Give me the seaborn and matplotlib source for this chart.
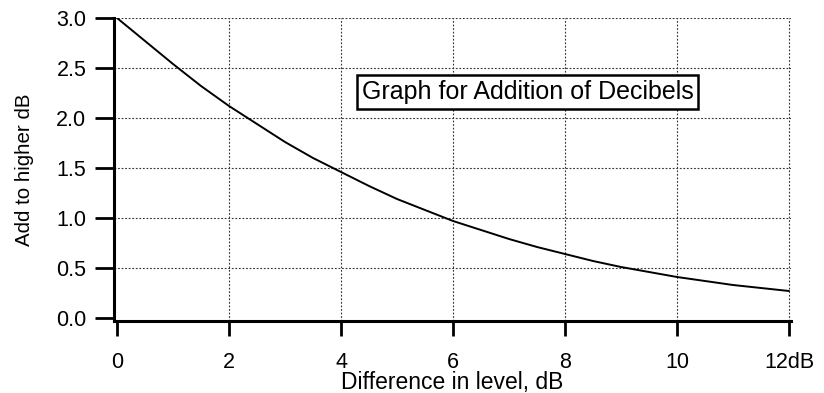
import matplotlib
matplotlib.use("Agg")
import matplotlib.pyplot as plt
import seaborn as sns
import pandas as pd

# Values
difference_db = [0.0, 0.5, 1.0, 1.5, 2.0, 2.5, 3.0, 3.5, 4.0, 4.5, 5.0, 5.5, 6.0,
                 6.5, 7.0, 7.5, 8.0, 8.5, 9.0, 9.5, 10.0, 10.5, 11.0, 11.5, 12.0]
add_to_higher = [3.00, 2.77, 2.54, 2.32, 2.12, 1.94, 1.76, 1.60, 1.46, 1.32, 1.19, 1.08, 0.97,
                 0.88, 0.79, 0.71, 0.64, 0.57, 0.51, 0.46, 0.41, 0.37, 0.33, 0.30, 0.27]
x_ticks = [0, 2, 4, 6, 8, 10, 12]
x_tick_labels = ["0", "2", "4", "6", "8", "10", "12dB"]
y_ticks = [0.0, 0.5, 1.0, 1.5, 2.0, 2.5, 3.0]
y_tick_labels = ["0.0", "0.5", "1.0", "1.5", "2.0", "2.5", "3.0"]

df = pd.DataFrame({"diff": difference_db, "add": add_to_higher})

sns.set_style("white")
plt.rcParams['font.family'] = ['Liberation Sans', 'DejaVu Sans']
plt.rcParams['text.color'] = 'black'
plt.rcParams['axes.labelcolor'] = 'black'

fig = plt.figure(figsize=(8.24, 3.93), dpi=100)
ax = fig.add_axes([0.1386, 0.1832, 0.821, 0.771])

sns.lineplot(data=df, x="diff", y="add", ax=ax, color="black", linewidth=1.4)

ax.set_xlim(-0.05, 12.03)
ax.set_ylim(-0.03, 3.0)
ax.set_xticks(x_ticks)
ax.set_xticklabels(x_tick_labels)
ax.set_yticks(y_ticks)
ax.set_yticklabels(y_tick_labels)

ax.grid(True, color="#333333", linestyle=(0, (1.6, 1.6)), linewidth=0.8)
# no grid line under the axis lines themselves
ax.get_xgridlines()[0].set_visible(False)
ax.get_ygridlines()[0].set_visible(False)

for s in ["top", "right"]:
    ax.spines[s].set_visible(False)
for s in ["left", "bottom"]:
    ax.spines[s].set_color("black")
    ax.spines[s].set_linewidth(2.2)

ax.tick_params(axis="y", direction="out", length=13.5, width=2, pad=6.5, labelsize=15.5, colors="black", left=True)
ax.tick_params(axis="x", direction="out", length=11, width=2, pad=11, labelsize=15.5, colors="black", bottom=True)

ax.set_xlabel("Difference in level, dB", fontsize=16.5, color="black")
ax.xaxis.set_label_coords(0.5, -0.165)
ax.set_ylabel("Add to higher dB", fontsize=14.8, labelpad=16, color="black")

ax.text(7.33, 2.26, "Graph for Addition of Decibels", fontsize=18, ha="center", va="center",
        color="black",
        bbox=dict(boxstyle="square,pad=0.2", facecolor="white", edgecolor="black", linewidth=1.8),
        zorder=5)

fig.savefig("out.png", dpi=100)
